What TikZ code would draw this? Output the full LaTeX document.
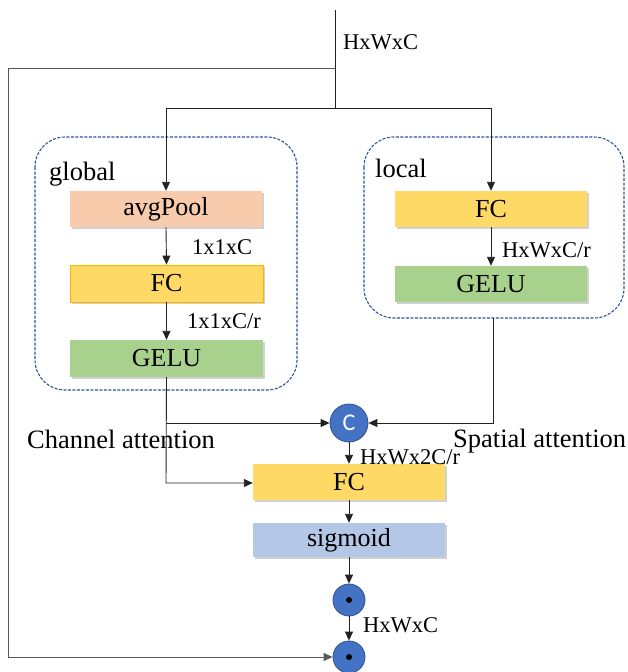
\documentclass[tikz,border=0pt]{standalone}
\usepackage{fontspec}
\setmainfont{Liberation Serif}
\newfontfamily\csans{Carlito}
\usetikzlibrary{arrows.meta,shadows}
\definecolor{peach}{HTML}{F8CBAD}
\definecolor{fcyellow}{HTML}{FFD966}
\definecolor{fcborder}{HTML}{F4B800}
\definecolor{gelugreen}{HTML}{A9D18E}
\definecolor{sigblue}{HTML}{B4C7E7}
\definecolor{opblue}{HTML}{4472C4}
\definecolor{opborder}{HTML}{2F528F}
\definecolor{dashblue}{HTML}{2F5597}
\definecolor{linegray}{HTML}{222222}
\begin{document}
\begin{tikzpicture}[x=1pt,y=-1pt,
  blk/.style={rectangle, minimum width=192pt, minimum height=36pt, inner sep=0pt,
    font=\fontsize{26}{28}\selectfont,
    drop shadow={shadow xshift=2pt,shadow yshift=-2pt,fill=black,opacity=0.18}},
  opnode/.style={circle, fill=opblue, draw=opborder, line width=0.8pt, inner sep=0pt},
  grp/.style={draw=dashblue, dashed, line width=1.1pt, rounded corners=30pt, dash pattern=on 3pt off 1.5pt},
  conn/.style={draw=linegray, line width=0.9pt},
  arr/.style={conn, -{Triangle[length=9pt,width=8pt]}},
  lbl/.style={font=\fontsize{22.5}{24}\selectfont, anchor=base west, inner sep=0pt},
  big/.style={font=\fontsize{26.5}{28}\selectfont, anchor=base west, inner sep=0pt}]
\useasboundingbox (0,0) rectangle (628,672);
\fill[white] (0,0) rectangle (628,672);

% group frames
\draw[grp] (35,137) rectangle (297,390);
\draw[grp] (364,137) rectangle (624,318);

% blocks
\node[blk, fill=peach] (avg) at (166,209) {avgPool};
\node[blk, fill=fcyellow, draw=fcborder, line width=0.8pt, minimum width=193pt, minimum height=37pt] (gfc) at (166.5,283.5) {FC};
\node[blk, fill=gelugreen, minimum width=193pt, minimum height=37pt] (ggelu) at (166.5,358.5) {GELU};
\node[blk, fill=fcyellow] (lfc) at (491,209) {FC};
\node[blk, fill=gelugreen] (lgelu) at (491,284) {GELU};
\node[blk, fill=fcyellow] (mfc) at (349,482) {FC};
\node[blk, fill=sigblue, minimum height=34pt] (sig) at (349,540) {sigmoid};

% operators
\node[opnode, minimum size=38pt, font=\csans\fontsize{24}{24}\selectfont, text=white] (cat) at (349,423) {C};
\node[opnode, minimum size=32pt] (d1) at (349,600) {};
\node[opnode, minimum size=32pt] (d2) at (349,657) {};
\fill[black] (d1.center) circle (3pt);
\fill[black] (d2.center) circle (3pt);

% coordinates
\coordinate (top) at (335,10);
\coordinate (j1) at (335,68);
\coordinate (j2) at (335,108);
\coordinate (cl1) at (8,68);
\coordinate (cl2) at (8,657);
\coordinate (g2) at (166,483);
\coordinate (g1) at (166,423);
\coordinate (l1) at (493,318);
\coordinate (l2) at (493,423);

% connectors
\draw[conn] (top) -- (j2);
\draw[arr, draw=gray!70!black] (j1) -- (cl1) -- (cl2) -- (d2.west);
\draw[arr] (j2) -| (avg.north);
\draw[arr] (j2) -| (lfc.north);
\draw[arr] (avg.south) -- (gfc.north);
\draw[arr] (gfc.south) -- (ggelu.north);
\draw[arr] (lfc.south) -- (lgelu.north);
\draw[arr] (ggelu.south) -- (g2) -- (mfc.west |- g2);
\draw[arr] (g1) -- (cat.west);
\draw[arr] (l1) -- (l2) -- (cat.east);
\draw[arr] (cat.south) -- (mfc.north);
\draw[arr] (mfc.south) -- (sig.north);
\draw[arr] (sig.south) -- (d1.north);
\draw[arr] (d1.south) -- (d2.north);

% labels
\node[lbl] (tl) at (343,49) {HxWxC};
\node[big] (gl) at (49,180) {global};
\node[big] (ll) at (375,177) {local};
\node[lbl] (a1) at (192,254) {1x1xC};
\node[lbl] (a2) at (187,328) {1x1xC/r};
\node[lbl] (a3) at (502,257) {HxWxC/r};
\node[big] (ca) at (27,448) {Channel attention};
\node[big] (sa) at (453,447) {Spatial attention};
\node[lbl] (a4) at (360,464) {HxWx2C/r};
\node[lbl] (a5) at (363,632) {HxWxC};
\end{tikzpicture}
\end{document}
